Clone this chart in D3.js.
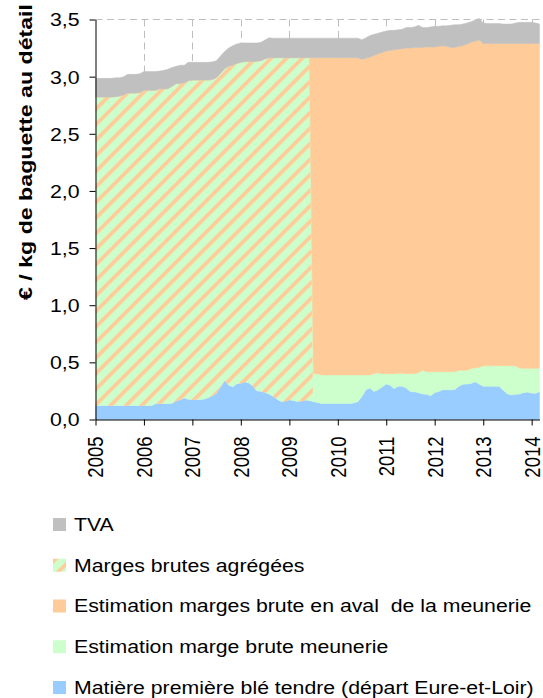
<!DOCTYPE html>
<html>
<head>
<meta charset="utf-8">
<script src="https://cdn.jsdelivr.net/npm/d3@7"></script>
<style>
body { margin:0; background:#fff; }
text { font-family: "Liberation Sans", Arial, sans-serif; fill:#000; }
</style>
</head>
<body>
<div id="chart"></div>
<script>
// monthly values, Jan 2005 .. Mar 2014, in EUR per kg
var ble = [0.12,0.12,0.12,0.12,0.12,0.12,0.12,0.12,0.12,0.12,0.12,0.12,
0.12,0.12,0.12,0.138,0.138,0.138,0.138,0.14,0.16,0.17,0.188,0.175,
0.173,0.173,0.173,0.178,0.188,0.205,0.228,0.28,0.34,0.30,0.285,0.31,
0.315,0.325,0.32,0.29,0.25,0.245,0.235,0.222,0.20,0.175,0.156,0.158,
0.17,0.165,0.156,0.158,0.168,0.165,0.156,0.148,0.14,0.14,0.14,0.14,
0.14,0.14,0.14,0.14,0.145,0.156,0.20,0.26,0.275,0.245,0.26,0.285,
0.31,0.30,0.27,0.29,0.29,0.275,0.245,0.243,0.235,0.223,0.222,0.208,
0.235,0.245,0.26,0.26,0.26,0.262,0.29,0.308,0.31,0.315,0.33,0.31,
0.29,0.29,0.29,0.29,0.29,0.255,0.225,0.214,0.22,0.223,0.235,0.24,
0.23,0.229,0.243];

var margesAgregees = [2.702,2.702,2.702,2.702,2.702,2.705,2.71,2.72,2.737,2.737,2.737,2.74,
2.76,2.76,2.76,2.742,2.757,2.757,2.757,2.775,2.779,2.769,2.757,2.79,
2.797,2.797,2.797,2.792,2.782,2.77,2.762,2.75,2.73,2.79,2.815,2.805,
2.81,2.807,2.812,2.842,2.885,2.895,2.92,2.944,2.966,2.991,3.01,3.008,
2.996,3.001,3.01,3.008,2.998,3.001,0,0,0,0,0,0,
0,0,0,0,0,0,0,0,0,0,0,0,
0,0,0,0,0,0,0,0,0,0,0,0,
0,0,0,0,0,0,0,0,0,0,0,0,
0,0,0,0,0,0,0,0,0,0,0,0,
0,0,0];

var margeMeunerie = [0,0,0,0,0,0,0,0,0,0,0,0,
0,0,0,0,0,0,0,0,0,0,0,0,
0,0,0,0,0,0,0,0,0,0,0,0,
0,0,0,0,0,0,0,0,0,0,0,0,
0,0,0,0,0,0,0.244,0.252,0.25,0.25,0.25,0.25,
0.25,0.25,0.25,0.25,0.245,0.234,0.19,0.13,0.115,0.155,0.15,0.115,
0.09,0.10,0.13,0.115,0.115,0.125,0.155,0.157,0.175,0.207,0.196,0.21,
0.183,0.173,0.158,0.158,0.158,0.156,0.14,0.122,0.12,0.13,0.123,0.145,
0.18,0.18,0.18,0.18,0.18,0.215,0.245,0.256,0.25,0.225,0.213,0.208,
0.218,0.219,0.205];

var margeAval = [0,0,0,0,0,0,0,0,0,0,0,0,
0,0,0,0,0,0,0,0,0,0,0,0,
0,0,0,0,0,0,0,0,0,0,0,0,
0,0,0,0,0,0,0,0,0,0,0,0,
0,0,0,0,0,0,2.766,2.766,2.776,2.776,2.776,2.776,
2.776,2.776,2.776,2.776,2.776,2.776,2.761,2.77,2.78,2.785,2.79,2.81,
2.825,2.83,2.835,2.835,2.84,2.85,2.85,2.855,2.845,2.825,2.842,2.842,
2.842,2.847,2.852,2.847,2.837,2.837,2.835,2.84,2.855,2.855,2.857,2.865,
2.82,2.82,2.82,2.82,2.82,2.82,2.82,2.82,2.82,2.842,2.842,2.842,
2.842,2.842,2.842];

var tva = [0.163,0.163,0.163,0.163,0.163,0.165,0.16,0.16,0.163,0.163,0.163,0.165,
0.165,0.165,0.165,0.165,0.155,0.16,0.17,0.165,0.151,0.161,0.155,0.16,
0.155,0.155,0.155,0.155,0.155,0.155,0.15,0.15,0.15,0.16,0.17,0.17,
0.17,0.163,0.163,0.163,0.16,0.16,0.165,0.174,0.171,0.171,0.171,0.171,
0.171,0.171,0.171,0.171,0.171,0.171,0.171,0.171,0.171,0.171,0.171,0.171,
0.171,0.171,0.171,0.171,0.171,0.171,0.172,0.18,0.19,0.185,0.18,0.18,
0.175,0.175,0.17,0.17,0.17,0.18,0.18,0.18,0.195,0.175,0.17,0.175,
0.18,0.175,0.175,0.18,0.195,0.2,0.19,0.19,0.185,0.18,0.185,0.19,
0.18,0.175,0.175,0.175,0.175,0.17,0.17,0.17,0.18,0.185,0.185,0.185,
0.185,0.18,0.17];

var years = [2005,2006,2007,2008,2009,2010,2011,2012,2013,2014];
var yTicks = [0,0.5,1,1.5,2,2.5,3,3.5];

var months = d3.timeMonth.range(new Date(2005,0,1), new Date(2014,3,1));

var series = [
  {key:"ble", name:"Matière première blé tendre (départ Eure-et-Loir)", fill:"#99CCFF", values:ble},
  {key:"agregees", name:"Marges brutes agrégées", fill:"url(#hatch)", values:margesAgregees},
  {key:"meunerie", name:"Estimation marge brute meunerie", fill:"#CCFFCC", values:margeMeunerie},
  {key:"aval", name:"Estimation marges brute en aval  de la meunerie", fill:"#FFCC99", values:margeAval},
  {key:"tva", name:"TVA", fill:"#C0C0C0", values:tva}
];
var legendOrder = ["tva","agregees","aval","meunerie","ble"];

var table = months.map(function(m,i){
  var row = {date:m};
  series.forEach(function(s){ row[s.key] = s.values[i]; });
  return row;
});

var W = 543, H = 698;
var svg = d3.select("#chart").append("svg").attr("width",W).attr("height",H);

var defs = svg.append("defs");
var pat = defs.append("pattern").attr("id","hatch")
    .attr("patternUnits","userSpaceOnUse")
    .attr("width",11).attr("height",11)
    .attr("patternTransform","rotate(45)");
pat.append("rect").attr("width",11).attr("height",11).attr("fill","#CCFFCC");
pat.append("rect").attr("width",3.8).attr("height",11).attr("fill","#FFCC99");

var x = d3.scaleTime().domain([new Date(2005,0,1), new Date(2014,2,1)]).range([95.5,539.5]);
var y = d3.scaleLinear().domain([0,3.5]).range([419.5,19.5]);

// grid
svg.append("g").selectAll("line").data(years.slice(1)).join("line")
    .attr("x1",d=>Math.round(x(new Date(d,0,1)))+0.5).attr("x2",d=>Math.round(x(new Date(d,0,1)))+0.5)
    .attr("y1",y(3.5)).attr("y2",y(0))
    .attr("stroke","#BEBEBE").attr("stroke-dasharray","7,4.5");
svg.append("line").attr("x1",x.range()[0]).attr("x2",x.range()[1])
    .attr("y1",y(3.5)).attr("y2",y(3.5))
    .attr("stroke","#BEBEBE").attr("stroke-dasharray","7,4.5");

var stacked = d3.stack().keys(series.map(s=>s.key))(table);
var area = d3.area().x(d=>x(d.data.date)).y0(d=>y(d[0])).y1(d=>y(d[1]));

svg.append("g").selectAll("path").data(stacked).join("path")
    .attr("d",area)
    .attr("fill",(d,i)=>series[i].fill)
    .attr("stroke",(d,i)=>series[i].key=="agregees" ? "none" : series[i].fill)
    .attr("stroke-width",0.5);

// axes
var fmt = d=>d3.format(".1f")(d).replace(".",",");
var yAxis = svg.append("g").attr("transform","translate(95.5,0)")
    .call(d3.axisLeft(y).tickValues(yTicks).tickSize(6).tickSizeOuter(0).tickFormat(fmt));
yAxis.selectAll("text").attr("x",0).attr("dy","0.35em")
    .attr("transform","translate(-16,0) scale(1.15,1)");

var xAxis = svg.append("g").attr("transform","translate(0,419.5)")
    .call(d3.axisBottom(x).tickValues(years.map(d=>new Date(d,0,1))).tickSize(6).tickSizeOuter(0).tickFormat(d3.timeFormat("%Y")));
xAxis.selectAll("text").attr("x",0).attr("y",0).attr("dy","0.35em")
    .style("text-anchor","end")
    .attr("transform","translate(0,17) scale(1.15,1) rotate(-90)");

svg.selectAll(".domain, .tick line").attr("stroke","#000");
svg.selectAll(".tick text").style("font-size","18.5px").style("font-family","'Liberation Sans', Arial, sans-serif").attr("fill","#000");

svg.append("text").attr("transform","translate(31.5,152) rotate(-90)")
    .style("text-anchor","middle").style("font-weight","bold").style("font-size","19px")
    .attr("textLength",296).attr("lengthAdjust","spacingAndGlyphs")
    .text("€ / kg de baguette au détail");

// legend
var lg = svg.append("g").selectAll("g").data(legendOrder).join("g")
    .attr("transform",(d,i)=>"translate(0,"+(524.5+i*40.75)+")");
lg.append("rect").attr("x",53).attr("y",-6.5).attr("width",13).attr("height",13)
    .attr("fill",d=>series.find(s=>s.key==d).fill);
lg.append("text").attr("dy","0.35em").style("font-size","18.5px").style("white-space","pre")
    .attr("transform","translate(74,0) scale(1.15,1)")
    .text(d=>series.find(s=>s.key==d).name);
</script>
</body>
</html>
